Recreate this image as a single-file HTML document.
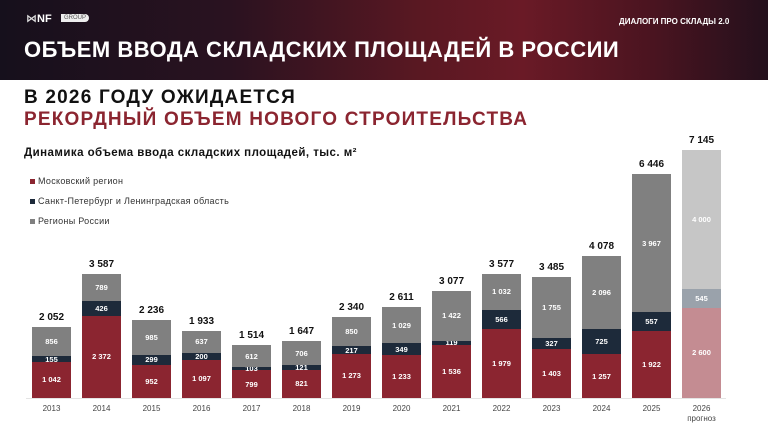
<!DOCTYPE html>
<html><head><meta charset="utf-8"><style>
body{margin:0;width:768px;height:427px;overflow:hidden;background:#fff;font-family:"Liberation Sans","DejaVu Sans",sans-serif;position:relative}
.hdr{position:absolute;left:0;top:0;width:768px;height:80px;background:linear-gradient(90deg,#16101c 0%,#2a1220 30%,#5a1822 55%,#6a1a26 68%,#4a1420 85%,#24101c 100%)}
.abs{position:absolute;white-space:nowrap}
.seg{position:absolute;color:#fff;font-size:7.5px;font-weight:bold;text-align:center;display:flex;align-items:center;justify-content:center}
.tot{position:absolute;font-size:10px;font-weight:bold;text-align:center;color:#111}
.yr{position:absolute;font-size:8px;color:#444;text-align:center;line-height:10px}
</style></head><body>
<div class="hdr"></div>
<div class="abs" style="left:26px;top:12px;color:#ddd;font-weight:bold;font-size:11px">⋈<span style="color:#fff">NF</span></div>
<div class="abs" style="left:61px;top:14px;background:#eee;color:#555;font-size:6px;padding:1px 3px;border-radius:0 4px 4px 0">GROUP</div>
<div class="abs" style="left:619px;top:17px;color:#fff;font-weight:bold;font-size:8px">ДИАЛОГИ ПРО СКЛАДЫ 2.0</div>
<div class="abs" style="left:24px;top:37px;color:#fff;font-weight:bold;font-size:22px;letter-spacing:0.5px">ОБЪЕМ ВВОДА СКЛАДСКИХ ПЛОЩАДЕЙ В РОССИИ</div>
<div class="abs" style="left:24px;top:87px;color:#111;font-weight:bold;font-size:19px;letter-spacing:1.2px">В 2026 ГОДУ ОЖИДАЕТСЯ</div>
<div class="abs" style="left:24px;top:109px;color:#8b2530;font-weight:bold;font-size:19px;letter-spacing:1.2px">РЕКОРДНЫЙ ОБЪЕМ НОВОГО СТРОИТЕЛЬСТВА</div>
<div class="abs" style="left:24px;top:147px;color:#111;font-weight:bold;font-size:11.5px;letter-spacing:0.45px">Динамика объема ввода складских площадей, тыс. м²</div>
<div class="abs" style="left:30px;top:176px;font-size:9px;letter-spacing:0.3px;color:#333"><span style="display:inline-block;width:5px;height:5px;background:#8b2530;margin-right:3px"></span>Московский регион</div>
<div class="abs" style="left:30px;top:196px;font-size:9px;letter-spacing:0.3px;color:#333"><span style="display:inline-block;width:5px;height:5px;background:#1d2a3a;margin-right:3px"></span>Санкт-Петербург и Ленинградская область</div>
<div class="abs" style="left:30px;top:216px;font-size:9px;letter-spacing:0.3px;color:#333"><span style="display:inline-block;width:5px;height:5px;background:#808080;margin-right:3px"></span>Регионы России</div>
<div class="abs" style="left:26px;top:398px;width:700px;height:1px;background:#e4e4e4"></div>
<div id="c"></div>
<script>
var d=[[2013,1042,155,856,"2 052"],[2014,2372,426,789,"3 587"],[2015,952,299,985,"2 236"],[2016,1097,200,637,"1 933"],[2017,799,103,612,"1 514"],[2018,821,121,706,"1 647"],[2019,1273,217,850,"2 340"],[2020,1233,349,1029,"2 611"],[2021,1536,119,1422,"3 077"],[2022,1979,566,1032,"3 577"],[2023,1403,327,1755,"3 485"],[2024,1257,725,2096,"4 078"],[2025,1922,557,3967,"6 446"],[2026,2600,545,4000,"7 145"]];
var c=document.getElementById('c'),s=0.0347,base=398,h='';
function f(n){n=String(n);return n.length>3?n.slice(0,n.length-3)+' '+n.slice(-3):n}
d.forEach(function(r,i){var cx=51.5+50*i,x=cx-19.5,y=base;
var cols=i==13?['#c48c92','#9aa2ab','#c6c6c6']:['#8b2530','#1d2a3a','#808080'];
for(var k=0;k<3;k++){var hh=r[k+1]*s;y-=hh;h+='<div class="seg" style="left:'+x+'px;top:'+y+'px;width:39px;height:'+hh+'px;background:'+cols[k]+'">'+f(r[k+1])+'</div>';}
h+='<div class="tot" style="left:'+(cx-30)+'px;top:'+(y-15)+'px;width:60px">'+r[4]+'</div>';
h+='<div class="yr" style="left:'+(cx-30)+'px;top:404px;width:60px">'+r[0]+(i==13?'<br>прогноз':'')+'</div>';});
c.innerHTML=h;
</script>
</body></html>
